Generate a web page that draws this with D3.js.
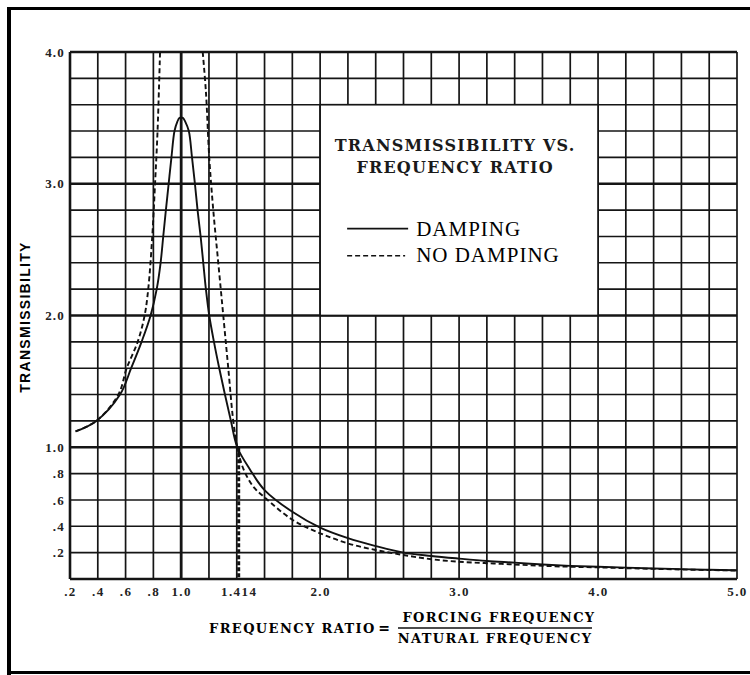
<!DOCTYPE html>
<meta charset="utf-8">
<style>
body { margin: 0; background: #fff; }
</style>
<svg width="750" height="675"></svg>
<script src="https://d3js.org/d3.v7.min.js"></script>
<script>

// frequency ratio (forcing / natural) against transmissibility
var dampingRatio = [0.24, 0.39, 0.56, 0.64, 0.715, 0.78, 0.824, 0.852, 0.871, 0.89, 0.91, 0.93, 0.952, 0.972, 0.988, 1.0,
    1.012, 1.03, 1.055, 1.078, 1.099, 1.118, 1.14, 1.159, 1.178, 1.202, 1.236, 1.274, 1.315, 1.358, 1.404, 1.496,
    1.6, 1.8, 2.0, 2.2, 2.4, 2.6, 2.8, 3.0, 3.2, 3.4, 3.6, 3.8, 4.0, 4.2, 4.4, 4.6, 4.8, 5.0];
var dampingT = [1.12, 1.2, 1.4, 1.6, 1.8, 2.0, 2.2, 2.4, 2.6, 2.8, 3.0, 3.2, 3.4, 3.47, 3.5, 3.5,
    3.5, 3.47, 3.4, 3.2, 3.0, 2.8, 2.6, 2.4, 2.2, 2.0, 1.8, 1.6, 1.4, 1.2, 1.0, 0.83,
    0.675, 0.51, 0.39, 0.31, 0.25, 0.2, 0.175, 0.155, 0.137, 0.124, 0.11, 0.1, 0.093, 0.086, 0.08, 0.075, 0.07, 0.066];

// no damping: one branch below resonance, one above
var noDampLowRatio = [0.24, 0.39, 0.548, 0.608, 0.687, 0.737, 0.763, 0.792, 0.812, 0.83, 0.848];
var noDampLowT = [1.12, 1.2, 1.4, 1.6, 1.8, 2.0, 2.2, 2.6, 3.0, 3.4, 4.0];
var noDampHighRatio = [1.155, 1.178, 1.202, 1.231, 1.267, 1.303, 1.339, 1.375, 1.408, 1.45, 1.52, 1.6, 1.8, 2.0,
    2.2, 2.4, 2.6, 2.8, 3.0, 3.2, 3.4, 3.6, 3.8, 4.0, 4.2, 4.4, 4.6, 4.8, 5.0];
var noDampHighT = [4.0, 3.7, 3.2, 2.8, 2.4, 2.0, 1.6, 1.2, 0.98, 0.83, 0.70, 0.62, 0.45, 0.347,
    0.27, 0.22, 0.182, 0.15, 0.131, 0.12, 0.11, 0.10, 0.093, 0.088, 0.082, 0.077, 0.072, 0.068, 0.064];

// crossover marker at ratio sqrt(2)
var markerRatio = 1.414, markerT = 1.0;

var xTicks = [0.2, 0.4, 0.6, 0.8, 1.0, 1.414, 2.0, 3.0, 4.0, 5.0];
var xTickLabels = [".2", ".4", ".6", ".8", "1.0", "1.414", "2.0", "3.0", "4.0", "5.0"];
var yTicks = [4.0, 3.0, 2.0, 1.0, 0.8, 0.6, 0.4, 0.2];
var yTickLabels = ["4.0", "3.0", "2.0", "1.0", ".8", ".6", ".4", ".2"];

// legend box covers this part of the grid
var boxRatio = [2.0, 4.0], boxT = [2.0, 3.6];

var svg = d3.select("svg"),
    margin = {top: 52, right: 13, bottom: 96, left: 70},
    width = +svg.attr("width") - margin.left - margin.right,
    height = +svg.attr("height") - margin.top - margin.bottom;

// scanned-page frame
svg.append("rect").attr("x", 7).attr("y", 7).attr("width", 4).attr("height", 668).attr("fill", "#000");
svg.append("rect").attr("x", 7).attr("y", 7).attr("width", 743).attr("height", 3).attr("fill", "#000");
svg.append("rect").attr("x", 7).attr("y", 671).attr("width", 743).attr("height", 3).attr("fill", "#000");

var g = svg.append("g").attr("transform", "translate(" + margin.left + "," + margin.top + ")");

var x = d3.scaleLinear().domain([0.2, 5.0]).range([0, width]);
var y = d3.scaleLinear().domain([0, 4]).range([height, 0]);

g.append("clipPath").attr("id", "plot")
  .append("rect").attr("width", width).attr("height", height);

// grid every 0.2 both ways
var vLines = d3.range(1, 26).map(function(i) { return +(i * 0.2).toFixed(1); });
var hLines = d3.range(0, 21).map(function(i) { return +(i * 0.2).toFixed(1); });

g.append("g").selectAll("line").data(vLines).enter().append("line")
    .attr("x1", function(d) { return x(d); })
    .attr("x2", function(d) { return x(d); })
    .attr("y1", 0).attr("y2", height)
    .attr("stroke", "#151515")
    .attr("stroke-width", function(d) { return d === 1.0 ? 2.8 : (d === 0.2 ? 2.6 : 1.7); });

g.append("g").selectAll("line").data(hLines).enter().append("line")
    .attr("x1", 0).attr("x2", width)
    .attr("y1", function(d) { return y(d); })
    .attr("y2", function(d) { return y(d); })
    .attr("stroke", "#151515")
    .attr("stroke-width", function(d) { return d === 0 ? 2.6 : (d % 1 === 0 ? 2.3 : 1.6); });

// legend box
var bx = x(boxRatio[0]), by = y(boxT[1]);
g.append("rect")
    .attr("x", bx).attr("y", by)
    .attr("width", x(boxRatio[1]) - bx)
    .attr("height", y(boxT[0]) - by)
    .attr("fill", "#fff")
    .attr("stroke", "#151515")
    .attr("stroke-width", 1.7);

g.append("text")
    .attr("x", bx + 135).attr("y", by + 46)
    .attr("text-anchor", "middle")
    .style("font", "bold 16px 'DejaVu Serif'")
    .style("letter-spacing", "1.2px")
    .attr("fill", "#1a1a1a")
    .text("TRANSMISSIBILITY VS.");
g.append("text")
    .attr("x", bx + 135).attr("y", by + 68)
    .attr("text-anchor", "middle")
    .style("font", "bold 16px 'DejaVu Serif'")
    .style("letter-spacing", "1.2px")
    .attr("fill", "#1a1a1a")
    .text("FREQUENCY RATIO");

g.append("line")
    .attr("x1", bx + 27).attr("x2", bx + 88)
    .attr("y1", by + 124).attr("y2", by + 124)
    .attr("stroke", "#111").attr("stroke-width", 1.8);
g.append("text")
    .attr("x", bx + 96).attr("y", by + 131)
    .style("font", "21px 'Liberation Serif'")
    .style("letter-spacing", "1px")
    .text("DAMPING");
g.append("line")
    .attr("x1", bx + 27).attr("x2", bx + 85)
    .attr("y1", by + 151).attr("y2", by + 151)
    .attr("stroke", "#111").attr("stroke-width", 1.6)
    .attr("stroke-dasharray", "5,3");
g.append("text")
    .attr("x", bx + 96).attr("y", by + 157)
    .style("font", "21px 'Liberation Serif'")
    .style("letter-spacing", "1px")
    .text("NO DAMPING");

// curves
var line = d3.line()
    .x(function(d) { return x(d[0]); })
    .y(function(d) { return y(d[1]); })
    .curve(d3.curveCatmullRom.alpha(0.5));

var curves = g.append("g").attr("clip-path", "url(#plot)");

curves.append("path")
    .datum(d3.zip(dampingRatio, dampingT))
    .attr("fill", "none")
    .attr("stroke", "#111")
    .attr("stroke-width", 1.9)
    .attr("d", line);

[d3.zip(noDampLowRatio, noDampLowT), d3.zip(noDampHighRatio, noDampHighT)].forEach(function(branch) {
  curves.append("path")
      .datum(branch)
      .attr("fill", "none")
      .attr("stroke", "#111")
      .attr("stroke-width", 1.9)
      .attr("stroke-dasharray", "5,3")
      .attr("d", line);
});

curves.append("line")
    .attr("x1", x(markerRatio)).attr("x2", x(markerRatio))
    .attr("y1", y(markerT)).attr("y2", y(0))
    .attr("stroke", "#111")
    .attr("stroke-width", 3)
    .attr("stroke-dasharray", "4,2");

// axes (labels only, the grid carries the lines)
g.append("g")
    .call(d3.axisLeft(y).tickValues(yTicks).tickSize(0).tickPadding(5)
      .tickFormat(function(d, i) { return yTickLabels[i]; }))
    .call(function(a) { a.select(".domain").remove(); })
    .selectAll("text")
    .style("font", "bold 13px 'Liberation Serif'")
    .style("letter-spacing", "1.2px")
    .attr("fill", "#222");

g.append("g")
    .attr("transform", "translate(0," + height + ")")
    .call(d3.axisBottom(x).tickValues(xTicks).tickSize(0).tickPadding(8)
      .tickFormat(function(d, i) { return xTickLabels[i]; }))
    .call(function(a) { a.select(".domain").remove(); })
    .selectAll("text")
    .style("font", "bold 13px 'Liberation Serif'")
    .style("letter-spacing", "1.4px")
    .attr("fill", "#222");

// axis titles
svg.append("text")
    .attr("transform", "translate(30,317) rotate(-90)")
    .attr("text-anchor", "middle")
    .style("font", "bold 14px 'Liberation Sans'")
    .style("letter-spacing", "1.3px")
    .text("TRANSMISSIBILITY");

svg.append("text")
    .attr("x", 209).attr("y", 633)
    .style("font", "bold 13px 'DejaVu Serif'")
    .style("letter-spacing", "1.4px")
    .text("FREQUENCY RATIO");
svg.append("text")
    .attr("x", 384).attr("y", 633)
    .attr("text-anchor", "middle")
    .style("font", "bold 14px 'DejaVu Serif'")
    .text("=");
svg.append("text")
    .attr("x", 499).attr("y", 622)
    .attr("text-anchor", "middle")
    .style("font", "bold 13px 'DejaVu Serif'")
    .style("letter-spacing", "1.4px")
    .text("FORCING FREQUENCY");
svg.append("line")
    .attr("x1", 398).attr("x2", 592)
    .attr("y1", 628).attr("y2", 628)
    .attr("stroke", "#111").attr("stroke-width", 1.5);
svg.append("text")
    .attr("x", 495).attr("y", 643)
    .attr("text-anchor", "middle")
    .style("font", "bold 13px 'DejaVu Serif'")
    .style("letter-spacing", "1.4px")
    .text("NATURAL FREQUENCY");

</script>
